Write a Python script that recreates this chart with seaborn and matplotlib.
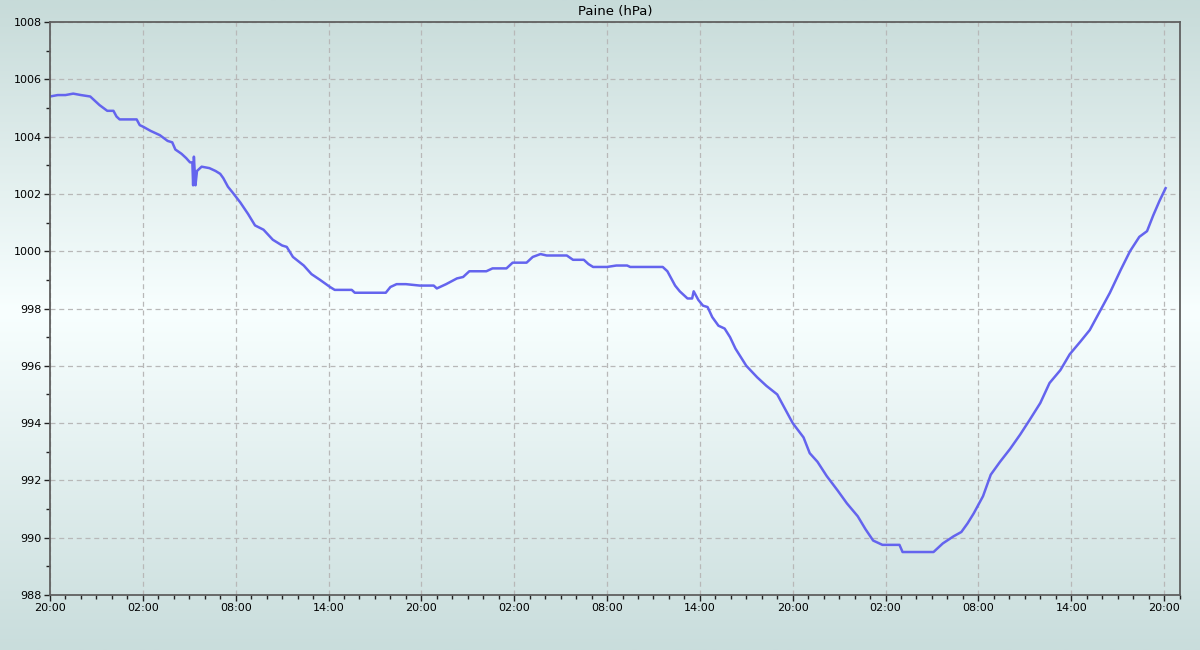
import numpy as np
import pandas as pd
import seaborn as sns
import matplotlib.pyplot as plt
from matplotlib.colors import LinearSegmentedColormap
from matplotlib.ticker import MultipleLocator, FixedLocator

# hours since the first 20:00, and pressure
hours = [0.0, 0.5, 1.0, 1.5, 2.0, 2.6, 3.2, 3.7, 4.1, 4.3, 4.5, 5.6, 5.8, 6.0,
         6.5, 7.1, 7.6, 7.9, 8.1, 8.5, 8.8, 9.05, 9.2, 9.25, 9.3, 9.4, 9.5, 9.6,
         9.8, 10.3, 10.7, 11.0, 11.2, 11.5, 11.8, 12.3, 12.8, 13.25, 13.8, 14.4,
         15.0, 15.3, 15.7, 16.4, 16.9, 17.45, 18.1, 18.4, 19.5, 19.7, 21.7, 22.0,
         22.4, 23.0, 23.9, 24.8, 25.0, 25.6, 26.3, 26.7, 27.1, 28.2, 28.6, 29.5,
         29.9, 30.8, 31.2, 31.7, 32.1, 33.4, 33.8, 34.5, 34.8, 35.1, 36.0, 36.6,
         37.3, 37.5, 39.6, 39.9, 40.2, 40.4, 40.7, 41.2, 41.5, 41.6, 41.9, 42.2,
         42.5, 42.8, 43.2, 43.6, 43.95, 44.3, 45.0, 45.7, 46.3, 47.0, 47.4, 48.0,
         48.7, 49.1, 49.6, 50.2, 50.9, 51.5, 52.2, 52.7, 53.2, 53.8, 54.9, 55.1,
         57.1, 57.3, 57.7, 58.4, 58.9, 59.3, 59.7, 60.1, 60.3, 60.8, 61.4, 62.05,
         62.7, 63.3, 64.0, 64.6, 65.3, 65.9, 66.6, 67.2, 67.9, 68.5, 69.2, 69.8,
         70.4, 70.9, 71.3, 71.7, 72.1]
pressure = [1005.4, 1005.45, 1005.45, 1005.5, 1005.45, 1005.4, 1005.1, 1004.9, 1004.9, 1004.7,
            1004.6, 1004.6, 1004.4, 1004.35, 1004.2, 1004.05, 1003.85, 1003.8, 1003.55, 1003.4,
            1003.25, 1003.1, 1003.1, 1002.3, 1003.3, 1002.3, 1002.8, 1002.85, 1002.95, 1002.9,
            1002.8, 1002.7, 1002.55, 1002.25, 1002.05, 1001.7, 1001.3, 1000.9, 1000.75, 1000.4,
            1000.2, 1000.15, 999.8, 999.5, 999.2, 999.0, 998.75, 998.65, 998.65, 998.55,
            998.55, 998.75, 998.85, 998.85, 998.8, 998.8, 998.7, 998.85, 999.05, 999.1,
            999.3, 999.3, 999.4, 999.4, 999.6, 999.6, 999.8, 999.9, 999.85, 999.85,
            999.7, 999.7, 999.55, 999.45, 999.45, 999.5, 999.5, 999.45, 999.45, 999.3,
            999.0, 998.8, 998.6, 998.35, 998.35, 998.6, 998.3, 998.1, 998.05, 997.7,
            997.4, 997.3, 997.0, 996.6, 996.0, 995.6, 995.3, 995.0, 994.6, 994.0,
            993.5, 992.95, 992.65, 992.15, 991.65, 991.2, 990.75, 990.3, 989.9, 989.75,
            989.75, 989.5, 989.5, 989.6, 989.8, 990.05, 990.2, 990.5, 990.85, 991.25,
            991.45, 992.2, 992.65, 993.1, 993.6, 994.1, 994.7, 995.4, 995.85, 996.4,
            996.85, 997.25, 997.95, 998.55, 999.35, 1000.0, 1000.5, 1000.7, 1001.25, 1001.75,
            1002.2]

tick_hours = [0, 6, 12, 18, 24, 30, 36, 42, 48, 54, 60, 66, 72]
tick_labels = ["20:00", "02:00", "08:00", "14:00", "20:00", "02:00", "08:00",
               "14:00", "20:00", "02:00", "08:00", "14:00", "20:00"]

df = pd.DataFrame({"ora": hours, "presiune": pressure})

plt.rcParams['font.family'] = ['DejaVu Sans']
fig = plt.figure(figsize=(12, 6.5), dpi=100)

# background gradient behind everything (teal at edges, white around 998)
bg = fig.add_axes([0, 0, 1, 1], zorder=0)
grad_cmap = LinearSegmentedColormap.from_list(
    "bg", [(0.0, "#c7dbd9"), (0.48, "#f8ffff"), (1.0, "#c9dddc")])
bg.imshow(np.linspace(0, 1, 256).reshape(-1, 1), aspect="auto", cmap=grad_cmap,
          extent=[0, 1, 1, 0])
bg.axis("off")

ax = fig.add_axes([50/1200, 1 - 595/650, 1130/1200, 573/650], zorder=1)
ax.set_facecolor("none")

sns.lineplot(data=df, x="ora", y="presiune", color="#6464ee", linewidth=1.8, ax=ax)

ax.set_xlim(0, 73.03)
ax.set_ylim(988, 1008)
ax.xaxis.set_major_locator(FixedLocator(tick_hours))
ax.set_xticklabels(tick_labels)
ax.xaxis.set_minor_locator(MultipleLocator(1))
ax.yaxis.set_major_locator(MultipleLocator(2))
ax.yaxis.set_minor_locator(MultipleLocator(1))
ax.tick_params(which="major", length=4, width=1, color="#222222", labelsize=8, pad=2)
ax.tick_params(which="minor", length=3, width=1, color="#222222")

ax.grid(True, which="major", linestyle=(0, (4, 3)), color="#b8b8b8", linewidth=0.9)
for s in ax.spines.values():
    s.set_color("#606060")
    s.set_linewidth(1.3)

ax.set_xlabel("")
ax.set_ylabel("")
ax.set_title("Paine (hPa)", fontsize=9.5, pad=5)

fig.savefig("out.png", dpi=100)
